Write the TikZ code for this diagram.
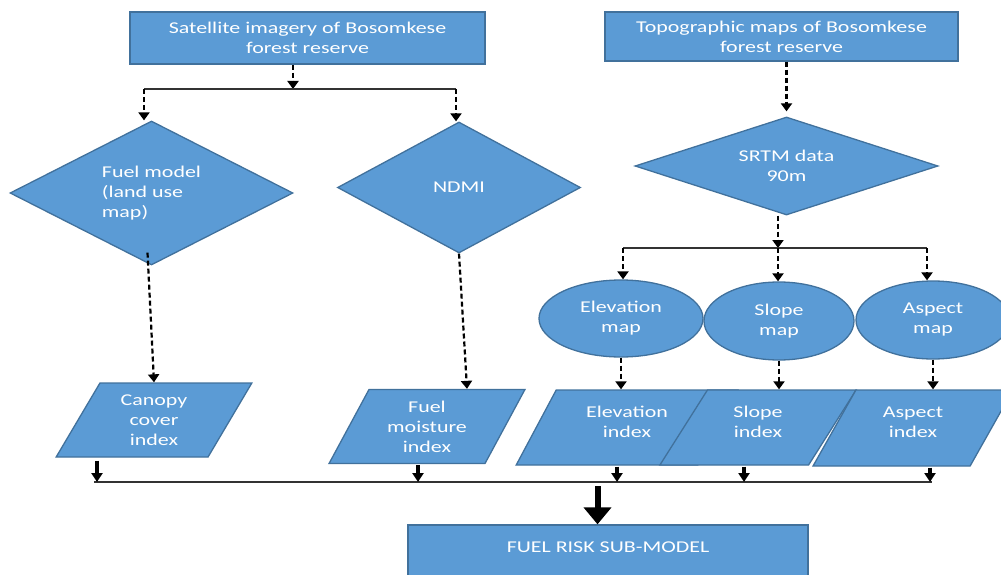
\documentclass[tikz,border=0pt]{standalone}
\usepackage{fontspec}
\setmainfont{Carlito}[FakeStretch=1.33]
\usepackage{tikz}
\usetikzlibrary{positioning,calc,shapes.geometric,arrows.meta}

\definecolor{boxblue}{RGB}{91,155,213}
\definecolor{boxedge}{RGB}{65,113,156}

\begin{document}
\begin{tikzpicture}[x=1pt,y=-1pt]
            \tikzstyle{flow}=[fill=boxblue, draw=boxedge, line width=1.3pt, text=white, align=center, inner sep=0pt, font=\fontsize{16.5pt}{20pt}\selectfont]
            \tikzstyle{srcbox}=[flow, rectangle]
            \tikzstyle{dia}=[flow, diamond]
            \tikzstyle{para}=[flow, trapezium, trapezium left angle=62, trapezium right angle=118, trapezium stretches=true, minimum height=74pt]
            \tikzstyle{oval}=[flow, ellipse]
            \tikzstyle{dasharrow}=[-{Triangle[width=11pt,length=8pt]}, line width=2.2pt, dash pattern=on 5pt off 3pt]
            \tikzstyle{thickarrow}=[-{Triangle[width=11pt,length=9pt]}, line width=3.5pt]
            \tikzstyle{bigarrow}=[-{Triangle[width=27pt,length=17pt]}, line width=6pt]
            \tikzstyle{splitline}=[line width=1.2pt, draw=black!80]

            \useasboundingbox (0,0) rectangle (1001,575);
            \clip (0,0) rectangle (1001,575);

            % sources
            \node[srcbox, minimum width=355pt, minimum height=52pt] (sat) at (307.5,38) {Satellite imagery of Bosomkese\\forest reserve};
            \node[srcbox, minimum width=353pt, minimum height=49pt] (topo) at (781.5,36.5) {Topographic maps of Bosomkese\\forest reserve};

            % decisions
            \node[dia, shape aspect=2, minimum width=283pt, minimum height=144pt, align=left] (fuelmodel) at (151.5,193) {Fuel model\\(land use\\map)};
            \node[dia, shape aspect=2, minimum width=243pt, minimum height=131pt] (ndmi) at (459,187.5) {NDMI};
            \node[dia, shape aspect=3, minimum width=303pt, minimum height=98pt] (srtm) at (786.5,166) {SRTM data\\90m};

            % derived maps
            \node[oval, minimum width=164pt, minimum height=77pt] (elevmap) at (621,318.5) {Elevation\\map};
            \node[oval, minimum width=150pt, minimum height=78pt] (slopemap) at (779,321) {Slope\\map};
            \node[oval, minimum width=154pt, minimum height=78pt] (aspectmap) at (933,320) {Aspect\\map};

            % indices
            \node[para, minimum width=196pt] (canopy) at (154,420) {Canopy\\cover\\index};
            \node[para, minimum width=196pt] (moist) at (427,426.5) {Fuel\\moisture\\index};
            \node[para, minimum width=222pt, minimum height=75pt] (elevidx) at (627,427.5) {Elevation\\index\\[-8pt]};
            \node[para, minimum width=198pt, minimum height=75pt] (slopeidx) at (758,427.5) {Slope\\index\\[-8pt]};
            \node[para, minimum width=200pt, minimum height=76pt] (aspectidx) at (913,428) {Aspect\\index\\[-8pt]};

            % result
            \node[flow, minimum width=400pt, text height=27.5pt, text depth=30pt, anchor=base] (fuelrisk) at (608,552.5) {FUEL RISK SUB-MODEL};

            % satellite branch
            \coordinate (satsplit) at (293,89);
            \coordinate (splitL) at (144,89);
            \coordinate (splitR) at (456,89);
            \draw[dasharrow] (sat.south -| satsplit) -- (satsplit);
            \draw[splitline] (splitL) -- (splitR);
            \draw[dasharrow] (splitL) -- (splitL |- fuelmodel.north);
            \draw[dasharrow] (splitR) -- (splitR |- ndmi.north);
            \draw[dasharrow] ([xshift=-4pt,yshift=13pt]fuelmodel.south) -- (canopy.center |- canopy.north);
            \draw[dasharrow] (ndmi.south) -- ($(moist.center |- moist.north)+(40,0)$);

            % topographic branch
            \draw[dasharrow, shorten >=5pt] (srtm.north |- topo.south) -- (srtm.north);
            \coordinate (srtmsplit) at (778,248);
            \coordinate (splitA) at (623,248);
            \coordinate (splitC) at (927,248);
            \draw[dasharrow] (srtm.south -| srtmsplit) -- (srtmsplit);
            \draw[splitline] (splitA) -- (splitC);
            \draw[dasharrow] (splitA) -- (splitA |- elevmap.north);
            \draw[dasharrow] (srtmsplit) -- (srtmsplit |- slopemap.north);
            \draw[dasharrow] (splitC) -- (splitC |- aspectmap.north);
            \draw[dasharrow] (elevmap.south) -- (elevmap.south |- elevidx.north);
            \draw[dasharrow] (slopemap.south) -- (slopemap.south |- slopeidx.north);
            \draw[dasharrow] (aspectmap.south) -- (aspectmap.south |- aspectidx.north);

            % merge
            \coordinate (m1) at (97,482);
            \coordinate (m2) at (418,482);
            \coordinate (m3) at (617,482);
            \coordinate (m4) at (744,482);
            \coordinate (m5) at (930,482);
            \draw[splitline] (94,482) -- (932,482);
            \draw[thickarrow] (m1 |- canopy.south) ++(0,3) -- (m1);
            \draw[thickarrow] (m2 |- moist.south) ++(0,1) -- (m2);
            \draw[thickarrow] (m3 |- elevidx.south) ++(0,1) -- (m3);
            \draw[thickarrow] (m4 |- slopeidx.south) ++(0,1) -- (m4);
            \draw[thickarrow] (m5 |- aspectidx.south) ++(0,1) -- (m5);
            \coordinate (bigtop) at (597.5,486);
            \draw[bigarrow] (bigtop) -- (bigtop |- fuelrisk.north);
        \end{tikzpicture}
\end{document}
